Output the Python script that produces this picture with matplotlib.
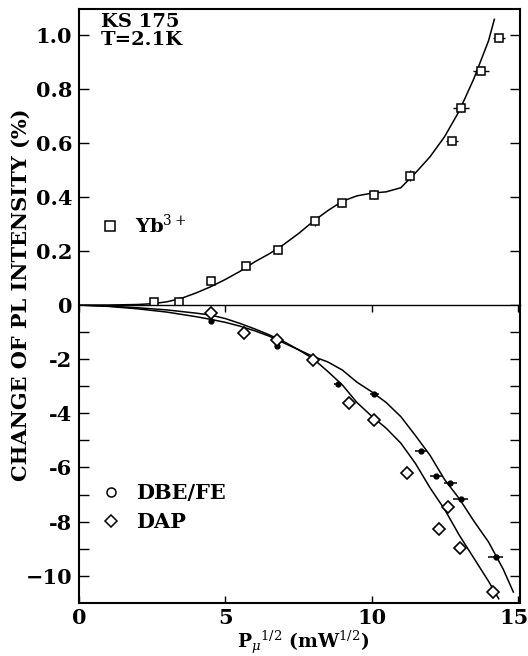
import matplotlib
matplotlib.use("Agg")
import matplotlib.pyplot as plt
import matplotlib.transforms as mtransforms
from matplotlib.lines import Line2D

plt.rcParams['font.family'] = ['DejaVu Serif']
plt.rcParams['mathtext.fontset'] = 'dejavuserif'

# Yb3+ (upper panel)
yb_x = [2.55, 3.4, 4.5, 5.7, 6.8, 8.05, 9.0, 10.1, 11.3, 12.75, 13.05, 13.75, 14.35]
yb_y = [0.01, 0.013, 0.09, 0.145, 0.205, 0.31, 0.38, 0.41, 0.48, 0.61, 0.73, 0.87, 0.99]
yb_xerr = [0, 0, 0, 0, 0, 0, 0, 0, 0.05, 0.22, 0.27, 0.28, 0.2]
yb_yerr = [0.015, 0.015, 0.015, 0.015, 0.015, 0.015, 0.015, 0.015, 0.02, 0.015, 0.015, 0.015, 0.015]

yb_fit_x = [0, 1, 2, 2.5, 3, 3.5, 4, 4.5, 5, 5.5, 6, 6.5, 7, 7.5, 8, 8.5, 9, 9.5,
            10, 10.5, 11, 11.5, 12, 12.5, 13, 13.5, 14, 14.2]
yb_fit_y = [0, 0, 0.002, 0.005, 0.012, 0.025, 0.045, 0.068, 0.095, 0.125, 0.16, 0.19,
            0.225, 0.265, 0.31, 0.35, 0.385, 0.405, 0.415, 0.42, 0.435, 0.49, 0.55,
            0.625, 0.72, 0.84, 0.98, 1.06]

# DBE/FE and DAP (lower panel)
dbe_x = [4.5, 6.75, 8.85, 10.1, 11.7, 12.2, 12.7, 13.05, 14.25]
dbe_y = [-0.58, -1.53, -2.9, -3.28, -5.38, -6.3, -6.56, -7.17, -9.3]
dbe_xerr = [0.05, 0.05, 0.15, 0.15, 0.2, 0.2, 0.22, 0.26, 0.26]

dap_x = [4.5, 5.65, 6.75, 8.0, 9.22, 10.1, 11.2, 12.3, 12.6, 13.02, 14.17]
dap_y = [-0.28, -1.04, -1.29, -2.02, -3.63, -4.26, -6.2, -8.26, -7.47, -8.97, -10.6]
dap_yerr = [0.2, 0.15, 0.2, 0.2, 0.15, 0.15, 0.15, 0.15, 0.15, 0.15, 0.2]

dbe_fit_x = [0, 1, 2, 3, 4, 4.5, 5, 5.5, 6, 6.5, 7, 7.5, 8, 8.5, 9, 9.5, 10, 10.5,
             11, 11.5, 12, 12.5, 13, 13.5, 14, 14.5, 14.85]
dbe_fit_y = [0, -0.05, -0.14, -0.26, -0.43, -0.53, -0.64, -0.78, -0.95, -1.15, -1.4,
             -1.65, -1.9, -2.1, -2.4, -2.85, -3.2, -3.6, -4.12, -4.82, -5.55, -6.45,
             -7.15, -7.98, -8.75, -9.75, -10.6]
dap_fit_x = [0, 1, 2, 3, 4, 4.5, 5, 5.5, 6, 6.5, 7, 7.5, 8, 8.5, 9, 9.5, 10, 10.5,
             11, 11.5, 12, 12.5, 13, 13.5, 14, 14.35]
dap_fit_y = [0, -0.04, -0.1, -0.18, -0.3, -0.37, -0.5, -0.68, -0.88, -1.1, -1.35,
             -1.65, -1.98, -2.45, -2.95, -3.6, -4.1, -4.55, -5.1, -5.85, -6.75, -7.55,
             -8.5, -9.35, -10.2, -10.85]

up_ticks = [0, 0.2, 0.4, 0.6, 0.8, 1.0]
up_labels = ["0", "0.2", "0.4", "0.6", "0.8", "1.0"]
low_ticks = [-10, -8, -6, -4, -2]
low_labels = ["\u221210", "-8", "-6", "-4", "-2"]
low_minor = [-9, -7, -5, -3, -1]
x_ticks = [0, 5, 10, 15]
x_labels = ["0", "5", "10", "15"]

fig = plt.figure(figsize=(5.28, 6.56), dpi=100)
ax_up = fig.add_axes([0.150, 0.535, 0.835, 0.452])
ax_lo = fig.add_axes([0.150, 0.081, 0.835, 0.454], sharex=ax_up)

lw_sp = 1.5
for ax in (ax_up, ax_lo):
    for s in ax.spines.values():
        s.set_linewidth(lw_sp)
ax_up.spines['bottom'].set_visible(False)
ax_lo.spines['top'].set_linewidth(1.0)

# upper panel
ax_up.plot(yb_fit_x, yb_fit_y, color='black', lw=1.1)
ax_up.errorbar(yb_x, yb_y, xerr=yb_xerr, yerr=yb_yerr, fmt='s', ms=5.8, mfc='white',
               mec='black', mew=1.1, ecolor='black', elinewidth=1.0, capsize=0)
ax_up.set_ylim(0, 1.1)
ax_up.set_xlim(0, 15.08)
ax_up.set_yticks(up_ticks)
ax_up.set_yticklabels(up_labels, fontweight='bold')
ax_up.tick_params(axis='y', which='both', direction='in', left=True, right=True,
                  length=7, width=1.0, labelsize=15, pad=5)
ax_up.tick_params(axis='x', which='both', bottom=False, top=False, labelbottom=False)

# lower panel
ax_lo.plot(dbe_fit_x, dbe_fit_y, color='black', lw=1.1)
ax_lo.plot(dap_fit_x, dap_fit_y, color='black', lw=1.1)
ax_lo.errorbar(dbe_x, dbe_y, xerr=dbe_xerr, fmt='o', ms=3.5, mfc='black', mec='black',
               ecolor='black', elinewidth=1.1, capsize=0)
ax_lo.errorbar(dap_x, dap_y, yerr=dap_yerr, fmt='D', ms=5.8, mfc='white', mec='black',
               mew=1.2, ecolor='black', elinewidth=1.0, capsize=0)
ax_lo.set_ylim(-11, 0)
ax_lo.set_yticks(low_ticks)
ax_lo.set_yticklabels(low_labels, fontweight='bold')
ax_lo.set_yticks(low_minor, minor=True)
ax_lo.tick_params(axis='y', which='both', direction='in', left=True, right=True,
                  length=7, width=1.0, labelsize=15, pad=5)
ax_lo.set_xticks(x_ticks)
ax_lo.set_xticklabels(x_labels, fontweight='bold')
ax_lo.tick_params(axis='x', which='both', direction='in', bottom=True, top=True,
                  length=5, width=1.0, labelsize=15, pad=4)
# the last x label runs to the edge of the picture: nudge it left a little
lab15 = ax_lo.get_xticklabels()[-1]
lab15.set_transform(lab15.get_transform() +
                    mtransforms.ScaledTranslation(-3.5 / 100, 0, fig.dpi_scale_trans))

# annotations
ax_up.text(0.05, 0.985, "KS 175\nT=2.1K", transform=ax_up.transAxes, ha='left', va='top',
           fontsize=14, fontweight='bold', linespacing=1.0)

h_yb = [Line2D([], [], ls='none', marker='s', ms=6.5, mfc='white', mec='black', mew=1.1)]
leg1 = ax_up.legend(h_yb, ["Yb$^{3+}$"], loc='center left', bbox_to_anchor=(0.03, 0.27),
                    frameon=False, fontsize=14, handlelength=1.0, handletextpad=0.8,
                    borderaxespad=0)
for t in leg1.get_texts():
    t.set_fontweight('bold')

h_lo = [Line2D([], [], ls='none', marker='o', ms=6.5, mfc='white', mec='black', mew=1.1),
        Line2D([], [], ls='none', marker='D', ms=6.5, mfc='white', mec='black', mew=1.1)]
leg2 = ax_lo.legend(h_lo, ["DBE/FE", "DAP"], loc='center left', bbox_to_anchor=(0.03, 0.32),
                    frameon=False, fontsize=15, handlelength=1.0, handletextpad=0.7,
                    labelspacing=0.45, borderaxespad=0)
for t in leg2.get_texts():
    t.set_fontweight('bold')

fig.text(0.04, 0.55, "CHANGE OF PL INTENSITY (%)", rotation=90, ha='center', va='center',
         fontsize=15, fontweight='bold')
fig.text(0.574, 0.013, r"P$_\mu$$^{1/2}$ (mW$^{1/2}$)", ha='center', va='baseline',
         fontsize=13.5, fontweight='bold')

fig.savefig("out.png", dpi=100)
